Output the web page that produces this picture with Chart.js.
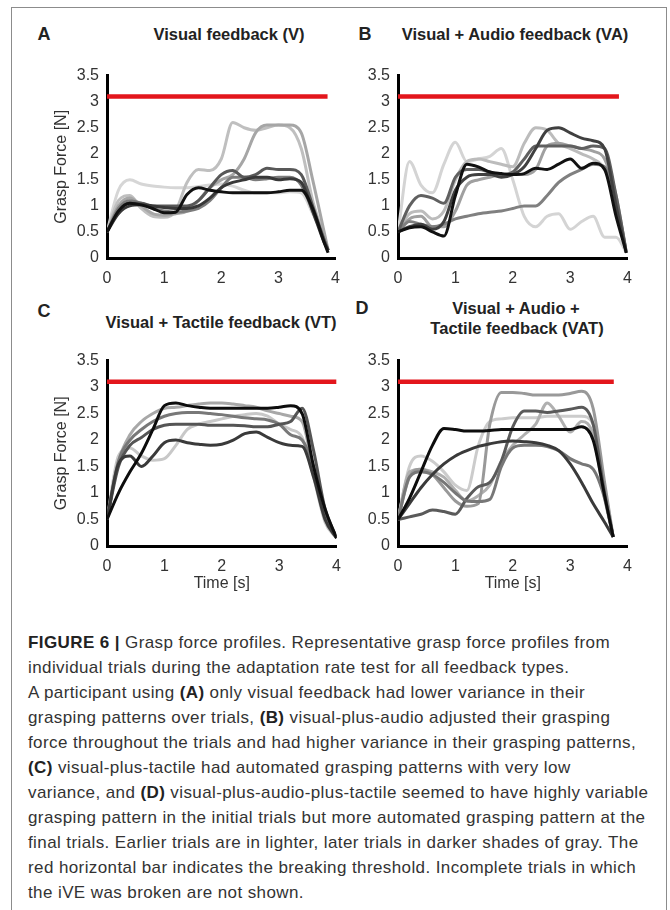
<!DOCTYPE html>
<html>
<head>
<meta charset="utf-8">
<script src="https://cdn.jsdelivr.net/npm/chart.js@4.4.1/dist/chart.umd.min.js"></script>
<style>
  body { margin: 0; background: #fff; font-family: "Liberation Sans", Arial, sans-serif; }
  #frame { position: absolute; left: 11px; top: 7px; width: 656px; height: 930px; border: 1.5px solid #8c8c8c; box-sizing: border-box; }
  canvas { position: absolute; }
  .lbl { position: absolute; transform: translate(-50%, -50%); white-space: nowrap; color: #222; font-weight: bold; }
  .letter { font-size: 18px; }
  .ttl { font-size: 16.5px; }
  #caption { position: absolute; left: 28px; top: 630px; font-size: 17px; letter-spacing: 0.4px; line-height: 25px; color: #333; white-space: nowrap; }
  #caption b { color: #222; }
</style>
</head>
<body>
<div id="frame"></div>

<div class="lbl letter" style="left:44px;top:34px">A</div>
<div class="lbl ttl" style="left:229px;top:34px">Visual feedback (V)</div>
<div class="lbl letter" style="left:365px;top:34px">B</div>
<div class="lbl ttl" style="left:515px;top:34px">Visual + Audio feedback (VA)</div>
<div class="lbl letter" style="left:44px;top:311px">C</div>
<div class="lbl ttl" style="left:221px;top:322px">Visual + Tactile feedback (VT)</div>
<div class="lbl letter" style="left:362px;top:308px">D</div>
<div class="lbl ttl" style="left:516px;top:308px">Visual + Audio +</div>
<div class="lbl ttl" style="left:517px;top:328px">Tactile feedback (VAT)</div>

<canvas id="chartA" width="304" height="230" style="left:47px;top:58px"></canvas>
<canvas id="chartB" width="285" height="230" style="left:358px;top:58px"></canvas>
<canvas id="chartC" width="305" height="251" style="left:47px;top:343px"></canvas>
<canvas id="chartD" width="285" height="251" style="left:358px;top:343px"></canvas>

<div id="caption">
<b>FIGURE 6 |</b> Grasp force profiles. Representative grasp force profiles from<br>
individual trials during the adaptation rate test for all feedback types.<br>
A participant using <b>(A)</b> only visual feedback had lower variance in their<br>
grasping patterns over trials, <b>(B)</b> visual-plus-audio adjusted their grasping<br>
force throughout the trials and had higher variance in their grasping patterns,<br>
<b>(C)</b> visual-plus-tactile had automated grasping patterns with very low<br>
variance, and <b>(D)</b> visual-plus-audio-plus-tactile seemed to have highly variable<br>
grasping pattern in the initial trials but more automated grasping pattern at the<br>
final trials. Earlier trials are in lighter, later trials in darker shades of gray. The<br>
red horizontal bar indicates the breaking threshold. Incomplete trials in which<br>
the iVE was broken are not shown.
</div>

<script>
// breaking threshold (N)
const threshold = 3.1;
const yTicks = [0, 0.5, 1, 1.5, 2, 2.5, 3, 3.5];
const xTicks = [0, 1, 2, 3, 4];

// trial shades, earliest (light) to latest (dark)
const shadesA = ["#d6d6d6", "#bfbfbf", "#a6a6a6", "#7c7c7c", "#585858", "#383838", "#111111"];
const shadesB = ["#d4d4d4", "#bcbcbc", "#a0a0a0", "#808080", "#606060", "#404040", "#111111"];
const shadesC = ["#c8c8c8", "#a8a8a8", "#787878", "#555555", "#3a3a3a", "#0d0d0d"];
const shadesD = ["#cccccc", "#b0b0b0", "#999999", "#5a5a5a", "#777777", "#3a3a3a", "#0d0d0d"];

// ---- A: visual feedback
const timeA = [0, 0.2, 0.4, 0.6, 0.8, 1.0, 1.2, 1.4, 1.6, 1.8, 2.0, 2.2, 2.4, 2.6, 2.8, 3.0, 3.2, 3.4, 3.6, 3.8, 3.87];
const trialA1 = [0.5, 1.3, 1.5, 1.42, 1.38, 1.36, 1.35, 1.35, 1.37, 1.4, 1.42, 1.38, 1.3, 1.25, 1.25, 1.25, 1.27, 1.25, 0.85, 0.35, 0.15];
const trialA2 = [0.5, 1.1, 1.2, 0.95, 0.8, 0.78, 0.9, 1.45, 1.7, 1.68, 1.9, 2.6, 2.5, 2.45, 2.5, 2.55, 2.5, 2.1, 1.1, 0.4, 0.15];
const trialA3 = [0.5, 1.0, 1.15, 1.0, 0.85, 0.82, 0.85, 0.9, 1.1, 1.35, 1.5, 1.6, 1.9, 2.4, 2.55, 2.55, 2.55, 2.4, 1.5, 0.5, 0.15];
const trialA4 = [0.5, 0.95, 1.1, 1.05, 0.95, 0.9, 0.88, 0.9, 0.95, 1.1, 1.35, 1.55, 1.55, 1.5, 1.52, 1.55, 1.55, 1.4, 0.9, 0.35, 0.15];
const trialA5 = [0.5, 0.9, 1.05, 1.05, 1.0, 1.0, 1.0, 1.0, 1.1, 1.35, 1.6, 1.68, 1.55, 1.6, 1.72, 1.7, 1.7, 1.6, 1.0, 0.35, 0.15];
const trialA6 = [0.5, 0.85, 1.0, 1.02, 1.0, 0.97, 0.95, 0.95, 1.0, 1.15, 1.35, 1.45, 1.5, 1.55, 1.55, 1.5, 1.52, 1.45, 0.9, 0.3, 0.15];
const trialA7 = [0.5, 0.9, 1.05, 1.02, 0.95, 0.87, 0.88, 1.22, 1.35, 1.3, 1.27, 1.25, 1.25, 1.25, 1.25, 1.27, 1.3, 1.3, 0.95, 0.3, 0.1];

// ---- B: visual + audio
const timeB = [0, 0.2, 0.4, 0.6, 0.8, 1.0, 1.2, 1.4, 1.6, 1.8, 2.0, 2.2, 2.4, 2.6, 2.8, 3.0, 3.2, 3.4, 3.6, 3.8, 3.98];
const trialB1 = [0.5, 1.85, 1.4, 1.25, 1.8, 2.22, 1.85, 1.9, 1.95, 2.1, 1.5, 0.8, 0.6, 0.8, 0.85, 0.55, 0.7, 0.8, 0.4, 0.4, 0.1];
const trialB2 = [0.5, 0.85, 0.9, 0.75, 0.9, 1.5, 1.85, 1.9, 1.85, 1.8, 1.75, 2.2, 2.5, 2.45, 2.2, 2.1, 2.0, 1.9, 1.7, 1.0, 0.1];
const trialB3 = [0.5, 0.75, 0.8, 0.6, 0.6, 0.9, 1.4, 1.5, 1.55, 1.6, 1.6, 1.6, 1.7, 2.15, 2.2, 2.15, 2.1, 2.05, 1.9, 1.2, 0.1];
const trialB4 = [0.5, 0.7, 0.65, 0.6, 0.65, 0.75, 0.8, 0.85, 0.88, 0.9, 0.95, 1.0, 1.0, 1.2, 1.45, 1.6, 1.7, 1.8, 1.75, 1.1, 0.1];
const trialB5 = [0.5, 1.0, 1.2, 1.15, 1.05, 1.55, 1.7, 1.7, 1.65, 1.6, 1.65, 1.9, 2.15, 2.15, 2.15, 2.15, 2.1, 2.15, 2.1, 1.2, 0.1];
const trialB6 = [0.5, 0.6, 0.65, 0.55, 0.7, 1.3, 1.55, 1.6, 1.6, 1.55, 1.6, 1.75, 2.1, 2.45, 2.5, 2.4, 2.3, 2.25, 2.1, 1.0, 0.1];
const trialB7 = [0.5, 0.58, 0.6, 0.5, 0.42, 1.2, 1.8, 1.75, 1.65, 1.62, 1.6, 1.62, 1.72, 1.7, 1.8, 1.9, 1.72, 1.82, 1.7, 0.8, 0.1];

// ---- C: visual + tactile
const timeC = [0, 0.2, 0.4, 0.6, 0.8, 1.0, 1.2, 1.4, 1.6, 1.8, 2.0, 2.2, 2.4, 2.6, 2.8, 3.0, 3.2, 3.4, 3.6, 3.8, 4.0];
const trialC1 = [0.5, 1.7, 1.85, 1.7, 1.62, 1.65, 1.9, 2.2, 2.3, 2.35, 2.4, 2.45, 2.48, 2.5, 2.45, 2.3, 2.2, 2.05, 1.3, 0.45, 0.15];
const trialC2 = [0.5, 1.6, 2.1, 2.35, 2.5, 2.6, 2.62, 2.65, 2.68, 2.7, 2.7, 2.68, 2.65, 2.62, 2.55, 2.5, 2.45, 2.35, 1.4, 0.5, 0.15];
const trialC3 = [0.5, 1.6, 2.0, 2.2, 2.35, 2.45, 2.5, 2.52, 2.52, 2.5, 2.48, 2.45, 2.42, 2.4, 2.38, 2.3, 2.1, 2.0, 1.5, 0.6, 0.15];
const trialC4 = [0.5, 1.5, 1.9, 2.05, 2.2, 2.28, 2.3, 2.3, 2.3, 2.28, 2.28, 2.28, 2.27, 2.25, 2.25, 2.3, 2.35, 2.6, 1.8, 0.7, 0.15];
const trialC5 = [0.5, 1.55, 1.7, 1.5, 1.7, 1.95, 2.0, 1.95, 1.92, 1.9, 1.92, 2.0, 2.12, 2.15, 2.05, 1.95, 1.9, 1.88, 1.3, 0.5, 0.15];
const trialC6 = [0.5, 1.0, 1.4, 1.75, 2.2, 2.65, 2.7, 2.65, 2.62, 2.6, 2.6, 2.6, 2.6, 2.6, 2.6, 2.62, 2.65, 2.5, 1.5, 0.7, 0.15];

// ---- D: visual + audio + tactile
const timeD = [0, 0.2, 0.4, 0.6, 0.8, 1.0, 1.2, 1.4, 1.6, 1.8, 2.0, 2.2, 2.4, 2.6, 2.8, 3.0, 3.2, 3.4, 3.6, 3.75];
const trialD1 = [0.5, 1.5, 1.7, 1.6, 1.4, 1.15, 1.05, 1.9, 2.35, 2.4, 2.42, 2.42, 2.42, 2.45, 2.45, 2.45, 2.45, 2.3, 1.1, 0.17];
const trialD2 = [0.5, 1.4, 1.45, 1.4, 1.3, 1.05, 0.85, 0.95, 1.15, 1.6, 1.9, 2.1, 2.3, 2.7, 2.45, 2.15, 2.35, 2.1, 0.9, 0.17];
const trialD3 = [0.5, 1.3, 1.45, 1.35, 1.1, 0.85, 0.75, 0.8, 2.3, 2.9, 2.9, 2.88, 2.85, 2.85, 2.85, 2.88, 2.92, 2.6, 1.2, 0.17];
const trialD4 = [0.5, 0.55, 0.6, 0.68, 0.65, 0.6, 0.9, 1.12, 1.2, 1.6, 2.25, 2.55, 2.55, 2.52, 2.55, 2.58, 2.62, 2.3, 1.0, 0.17];
const trialD5 = [0.5, 1.3, 1.4, 1.35, 1.2, 1.0, 0.85, 0.84, 0.88, 1.5, 1.85, 1.9, 1.9, 1.88, 1.8, 1.65, 1.55, 1.45, 0.9, 0.17];
const trialD6 = [0.5, 0.8, 1.1, 1.35, 1.55, 1.7, 1.8, 1.88, 1.93, 1.97, 1.98, 1.97, 1.95, 1.9, 1.8, 1.55, 1.2, 0.8, 0.45, 0.17];
const trialD7 = [0.5, 0.9, 1.4, 1.9, 2.22, 2.2, 2.17, 2.17, 2.18, 2.2, 2.2, 2.2, 2.2, 2.2, 2.2, 2.2, 2.25, 2.0, 0.95, 0.17];

// end of the red threshold bar per panel (s)
const redEndA = 3.86, redEndB = 3.85, redEndC = 4.0, redEndD = 3.76;

const tickFont = { family: "Liberation Sans, Arial, sans-serif", size: 16 };

function makePanel(id, time, trials, shades, redEnd, yTitle, xTitle) {
  const datasets = trials.map((vals, i) => ({
    data: vals.map((v, k) => ({ x: time[k], y: v })),
    borderColor: shades[i],
    borderWidth: 3,
    pointRadius: 0,
    cubicInterpolationMode: "monotone",
    order: trials.length - i + 1,
  }));
  datasets.push({
    data: [{ x: 0, y: threshold }, { x: redEnd, y: threshold }],
    borderColor: "#e3161c",
    borderWidth: 4.5,
    pointRadius: 0,
    order: 0,
  });

  new Chart(document.getElementById(id), {
    type: "line",
    data: { datasets },
    options: {
      responsive: false,
      animation: false,
      layout: { padding: { top: 10, right: 10, left: 0, bottom: 0 } },
      plugins: { legend: { display: false }, tooltip: { enabled: false } },
      scales: {
        x: {
          type: "linear",
          min: 0,
          max: 4,
          afterBuildTicks: (s) => { s.ticks = xTicks.map((v) => ({ value: v })); },
          afterFit: (s) => { s.height = xTitle ? 48 : 30; },
          grid: { display: false, drawTicks: false },
          border: { color: "#000", width: 3 },
          ticks: { color: "#333", font: tickFont, padding: 11, maxRotation: 0, callback: (v) => String(v) },
          title: { display: !!xTitle, text: xTitle, color: "#333", font: tickFont, padding: { top: 0, bottom: 1 } },
        },
        y: {
          min: 0,
          max: 3.5,
          afterBuildTicks: (s) => { s.ticks = yTicks.map((v) => ({ value: v })); },
          afterFit: (s) => { s.width = yTitle ? 60 : 40; },
          grid: { display: false, drawTicks: false },
          border: { color: "#000", width: 3 },
          ticks: { color: "#333", font: tickFont, padding: 8, callback: (v) => String(v) },
          title: { display: !!yTitle, text: yTitle, color: "#333", font: tickFont, padding: { top: 5, bottom: 0 } },
        },
      },
    },
  });
}

makePanel("chartA", timeA, [trialA1, trialA2, trialA3, trialA4, trialA5, trialA6, trialA7], shadesA, redEndA, "Grasp Force [N]", "");
makePanel("chartB", timeB, [trialB1, trialB2, trialB3, trialB4, trialB5, trialB6, trialB7], shadesB, redEndB, "", "");
makePanel("chartC", timeC, [trialC1, trialC2, trialC3, trialC4, trialC5, trialC6], shadesC, redEndC, "Grasp Force [N]", "Time [s]");
makePanel("chartD", timeD, [trialD1, trialD2, trialD3, trialD4, trialD5, trialD6, trialD7], shadesD, redEndD, "", "Time [s]");
</script>
</body>
</html>
